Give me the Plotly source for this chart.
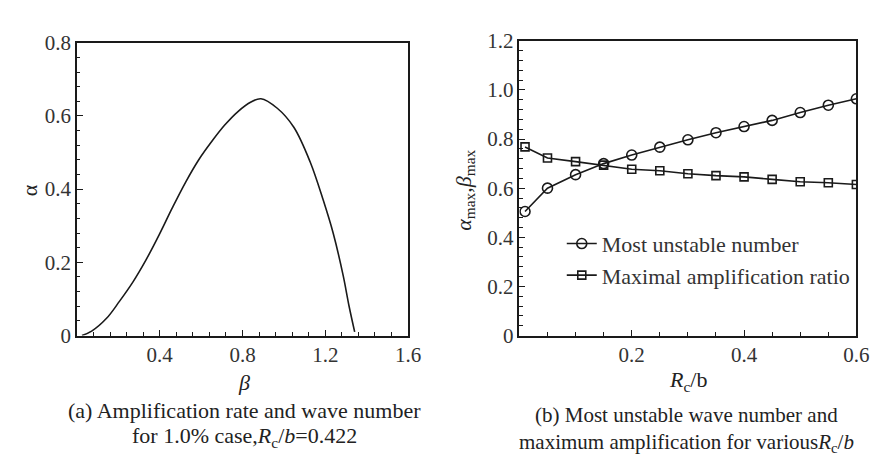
import plotly.graph_objects as go

# ---- Data: panel (a) ----
beta = [0.024, 0.071, 0.143, 0.206, 0.27, 0.333, 0.397, 0.46, 0.524, 0.587, 0.651,
        0.714, 0.778, 0.841, 0.889, 0.968, 1.048, 1.127, 1.19, 1.238, 1.286, 1.315, 1.342]
alpha = [0.0, 0.012, 0.047, 0.094, 0.146, 0.206, 0.275, 0.348, 0.418, 0.479, 0.53,
         0.575, 0.612, 0.638, 0.647, 0.621, 0.569, 0.474, 0.37, 0.28, 0.165, 0.08, 0.01]

# ---- Data: panel (b) ----
rc_b = [0.01, 0.05, 0.10, 0.15, 0.20, 0.25, 0.30, 0.35, 0.40, 0.45, 0.50, 0.55, 0.60]
most_unstable = [0.505, 0.60, 0.655, 0.70, 0.735, 0.767, 0.797, 0.826, 0.851, 0.876, 0.908, 0.938, 0.964]
max_amplification = [0.768, 0.723, 0.708, 0.694, 0.677, 0.671, 0.659, 0.651, 0.646, 0.636, 0.626, 0.622, 0.615]

# ---- Tick labels ----
a_xticks = [0.4, 0.8, 1.2, 1.6]
a_xtext = ["0.4", "0.8", "1.2", "1.6"]
a_yticks = [0, 0.2, 0.4, 0.6, 0.8]
a_ytext = ["0", "0.2", "0.4", "0.6", "0.8"]
b_xticks = [0.2, 0.4, 0.6]
b_xtext = ["0.2", "0.4", "0.6"]
b_yticks = [0, 0.2, 0.4, 0.6, 0.8, 1.0, 1.2]
b_ytext = ["0", "0.2", "0.4", "0.6", "0.8", "1.0", "1.2"]

FONT = "Liberation Serif, Times New Roman, serif"
INK = "#1a1a1a"

fig = go.Figure()

fig.add_trace(go.Scatter(
    x=beta, y=alpha, mode="lines", line=dict(color=INK, width=1.6, shape="spline", smoothing=1.0),
    showlegend=False, xaxis="x", yaxis="y"))

fig.add_trace(go.Scatter(
    x=rc_b, y=most_unstable, mode="lines+markers", name="Most unstable number",
    line=dict(color=INK, width=1.6),
    marker=dict(symbol="circle-open", size=10, color=INK, line=dict(width=1.6)),
    xaxis="x2", yaxis="y2"))

fig.add_trace(go.Scatter(
    x=rc_b, y=max_amplification, mode="lines+markers", name="Maximal amplification ratio",
    line=dict(color=INK, width=1.6),
    marker=dict(symbol="square-open", size=8, color=INK, line=dict(width=1.6)),
    xaxis="x2", yaxis="y2"))

axis_common = dict(showline=True, mirror=True, linecolor=INK, linewidth=1.5,
                   ticks="inside", ticklen=6, tickwidth=1.3, tickcolor=INK,
                   showgrid=False, zeroline=False,
                   tickfont=dict(family=FONT, size=21, color="#333"))

fig.update_layout(
    width=888, height=457,
    margin=dict(l=0, r=0, t=0, b=0),
    paper_bgcolor="white", plot_bgcolor="white",
    font=dict(family=FONT, color=INK),
    xaxis=dict(domain=[70/888, 406/888], range=[0, 1.6], tickvals=a_xticks, ticktext=a_xtext,
               minor=dict(dtick=0.08, ticks="inside", ticklen=3.5, tickcolor=INK, tickwidth=1.2),
               anchor="y", **axis_common),
    yaxis=dict(domain=[124/457, 433/457], range=[0, 0.8], tickvals=a_yticks, ticktext=a_ytext,
               minor=dict(dtick=0.04, ticks="inside", ticklen=3.5, tickcolor=INK, tickwidth=1.2),
               anchor="x", **axis_common),
    xaxis2=dict(domain=[519/888, 861/888], range=[0, 0.6], tickvals=b_xticks, ticktext=b_xtext,
                minor=dict(dtick=0.05, ticks="inside", ticklen=3.5, tickcolor=INK, tickwidth=1.2),
                anchor="y2", **axis_common),
    yaxis2=dict(domain=[124/457, 435/457], range=[0, 1.2], tickvals=b_yticks, ticktext=b_ytext,
                minor=dict(dtick=0.04, ticks="inside", ticklen=3.5, tickcolor=INK, tickwidth=1.2),
                anchor="x2", **axis_common),
    legend=dict(x=562/888, y=1 - 214/457, xanchor="left", yanchor="top",
                bgcolor="rgba(0,0,0,0)", font=dict(family=FONT, size=22, color="#333"),
                itemwidth=30, tracegroupgap=0),
)

ann = [
    dict(text="α", x=22/888, y=1 - 180/457, textangle=-90, size=22),
    dict(text="<i>β</i>", x=240/888, y=1 - 383/457, size=22),
    dict(text="(a) Amplification rate and wave number", x=240/888, y=1 - 412/457, size=22),
    dict(text="for 1.0% case,<i>R</i><sub>c</sub>/<i>b</i>=0.422", x=240/888, y=1 - 440/457, size=22),
    dict(text="<i>α</i><sub>max</sub>,<i>β</i><sub>max</sub>", x=463/888, y=1 - 180/457, textangle=-90, size=22),
    dict(text="<i>R</i><sub>c</sub>/b", x=690/888, y=1 - 381/457, size=22),
    dict(text="(b) Most unstable wave number and", x=689/888, y=1 - 417/457, size=21),
    dict(text="maximum amplification for various<i>R</i><sub>c</sub>/<i>b</i>", x=689/888, y=1 - 446/457, size=21),
]
for a in ann:
    size = a.pop("size")
    fig.add_annotation(xref="paper", yref="paper", showarrow=False,
                       xanchor="center", yanchor="middle",
                       font=dict(family=FONT, size=size, color="#222"), **a)

fig.write_html("out.html")
